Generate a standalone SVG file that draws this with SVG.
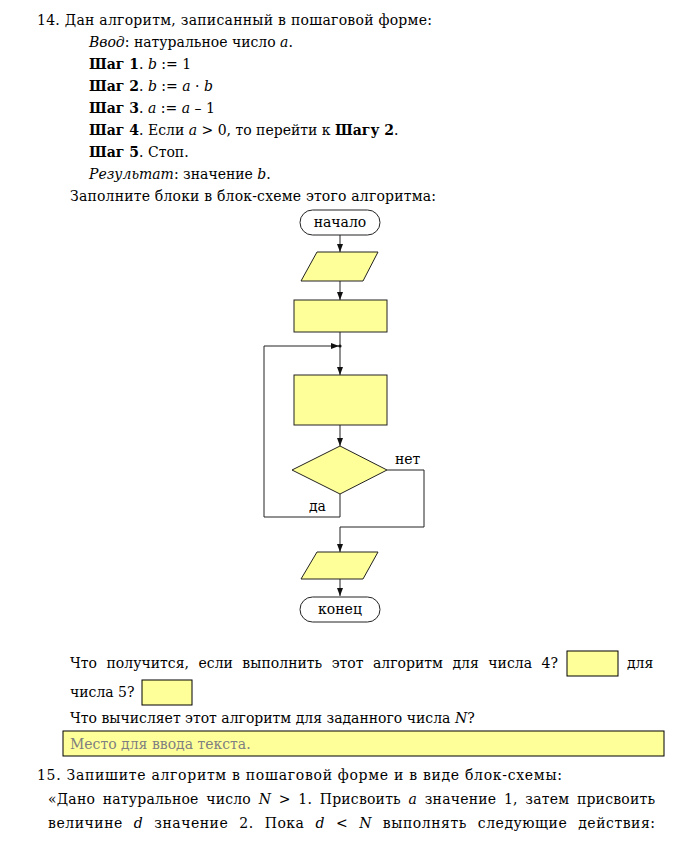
<svg xmlns="http://www.w3.org/2000/svg" width="692" height="845" viewBox="0 0 692 845">
<style>
.t{font-family:"DejaVu Serif","Liberation Serif",serif;font-size:14px;fill:#000}
.b{font-weight:bold}
.i{font-style:italic}
.fc{font-family:"DejaVu Serif","Liberation Serif",serif;font-size:14px;fill:#000}
.sh{fill:#ffff99;stroke:#222;stroke-width:1}
.term{fill:#fff;stroke:#222;stroke-width:1}
.ln{fill:none;stroke:#222;stroke-width:1}
.ans{fill:#ffff99;stroke:#000;stroke-width:1}
.ph{fill:#808080}
</style>
<defs>
<marker id="ar" markerWidth="8" markerHeight="6" refX="8" refY="3" orient="auto" markerUnits="userSpaceOnUse">
<path d="M0,0 L8,3 L0,6 Z" fill="#111"/>
</marker>
</defs>
<rect width="692" height="845" fill="#fff"/>

<g id="task14-text">
<text class="t" x="37" y="25" textLength="395">14. Дан алгоритм, записанный в пошаговой форме:</text>
<text class="t" x="89" y="47"><tspan class="i">Ввод</tspan>: натуральное число <tspan class="i">a</tspan>.</text>
<text class="t" x="89" y="69"><tspan class="b">Шаг 1</tspan>. <tspan class="i">b</tspan> := 1</text>
<text class="t" x="89" y="91"><tspan class="b">Шаг 2</tspan>. <tspan class="i">b</tspan> := <tspan class="i">a</tspan> · <tspan class="i">b</tspan></text>
<text class="t" x="89" y="113"><tspan class="b">Шаг 3</tspan>. <tspan class="i">a</tspan> := <tspan class="i">a</tspan> – 1</text>
<text class="t" x="89" y="135"><tspan class="b">Шаг 4</tspan>. Если <tspan class="i">a</tspan> &gt; 0, то перейти к <tspan class="b">Шагу 2</tspan>.</text>
<text class="t" x="89" y="157"><tspan class="b">Шаг 5</tspan>. Стоп.</text>
<text class="t" x="89" y="179"><tspan class="i">Результат</tspan>: значение <tspan class="i">b</tspan>.</text>
<text class="t" x="70" y="201" textLength="366">Заполните блоки в блок-схеме этого алгоритма:</text>
</g>

<g id="connectors">
<line class="ln" x1="340" y1="235" x2="340" y2="252" marker-end="url(#ar)"/>
<line class="ln" x1="340" y1="281" x2="340" y2="300" marker-end="url(#ar)"/>
<line class="ln" x1="340" y1="332" x2="340" y2="375" marker-end="url(#ar)"/>
<line class="ln" x1="340" y1="425" x2="340" y2="446" marker-end="url(#ar)"/>
<polyline class="ln" points="340,494 340,517 264,517 264,346 339,346" marker-end="url(#ar)"/>
<circle cx="340" cy="346" r="1.6" fill="#111"/>
<polyline class="ln" points="387,470 424,470 424,527 340,527 340,552" marker-end="url(#ar)"/>
<line class="ln" x1="340" y1="579" x2="340" y2="596" marker-end="url(#ar)"/>
<text class="fc" x="395" y="464">нет</text>
<text class="fc" x="309" y="511">да</text>
</g>

<g id="start">
<rect class="term" x="300" y="210" width="80" height="25" rx="12.5"/>
<text class="fc" x="340" y="227" text-anchor="middle">начало</text>
</g>
<g id="input">
<polygon class="sh" points="317,252 378,252 363,281 301,281"/>
</g>
<g id="init">
<rect class="sh" x="294" y="300" width="93" height="32"/>
</g>
<g id="body">
<rect class="sh" x="294" y="375" width="93" height="50"/>
</g>
<g id="cond">
<polygon class="sh" points="340,446 387,470 340,494 292,470"/>
</g>
<g id="output">
<polygon class="sh" points="317,552 378,552 363,579 301,579"/>
</g>
<g id="end">
<rect class="term" x="300" y="597" width="80" height="25" rx="12.5"/>
<text class="fc" x="340" y="614" text-anchor="middle">конец</text>
</g>

<g id="questions">
<text class="t" x="70" y="668" textLength="488" lengthAdjust="spacing" word-spacing="5">Что получится, если выполнить этот алгоритм для числа 4?</text>
<rect class="ans" x="567" y="651" width="51" height="25"/>
<text class="t" x="627" y="668">для</text>
<text class="t" x="70" y="697">числа 5?</text>
<rect class="ans" x="142" y="680" width="50" height="25"/>
<text class="t" x="70" y="723">Что вычисляет этот алгоритм для заданного числа <tspan class="i">N</tspan>?</text>
<rect class="ans" x="63" y="731" width="601" height="25"/>
<text class="t ph" x="70" y="749">Место для ввода текста.</text>
</g>

<g id="task15-text">
<text class="t" x="37" y="780" textLength="525">15. Запишите алгоритм в пошаговой форме и в виде блок-схемы:</text>
<text class="t" x="48" y="804" textLength="607" lengthAdjust="spacing" word-spacing="3">«Дано натуральное число <tspan class="i">N</tspan> &gt; 1. Присвоить <tspan class="i">a</tspan> значение 1, затем присвоить</text>
<text class="t" x="48" y="828" textLength="607" lengthAdjust="spacing" word-spacing="6">величине <tspan class="i">d</tspan> значение 2. Пока <tspan class="i">d</tspan> &lt; <tspan class="i">N</tspan> выполнять следующие действия:</text>
</g>
</svg>
